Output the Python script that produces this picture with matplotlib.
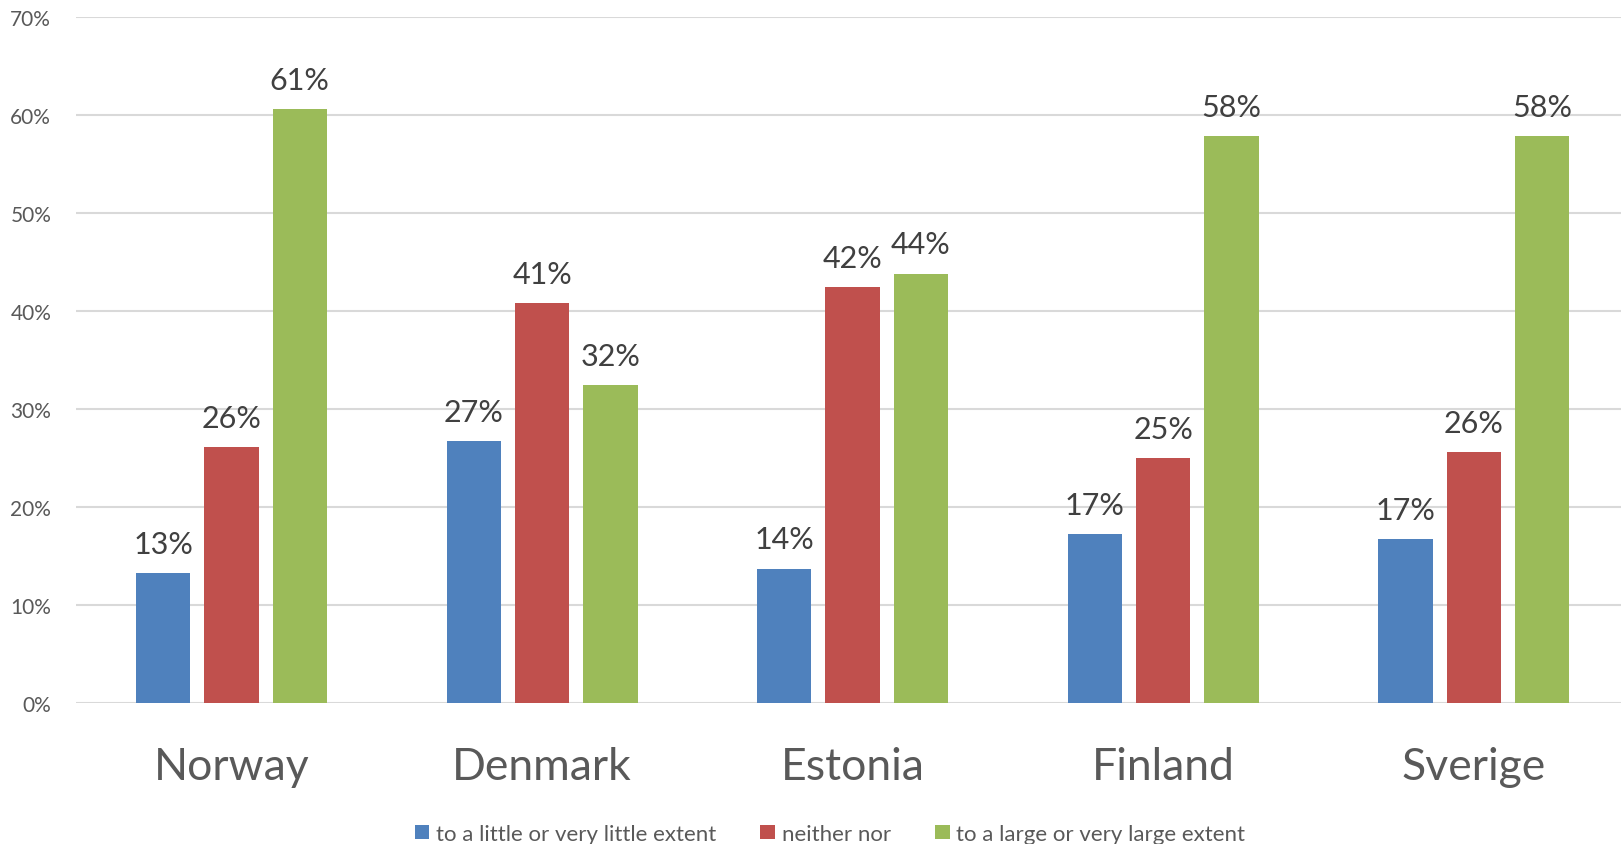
# diagrama de barras agrupadas por país

import matplotlib.pyplot as plt
import numpy as np

paises = ["Norway", "Denmark", "Estonia", "Finland", "Sverige"]
pouco = [13.2, 26.7, 13.7, 17.2, 16.7]
neutro = [26.1, 40.8, 42.4, 25.0, 25.6]
muito = [60.6, 32.4, 43.8, 57.8, 57.8]
series = ["to a little or very little extent", "neither nor", "to a large or very large extent"]
cores = ["#4F81BD", "#C0504D", "#9BBB59"]
yticks = [0, 10, 20, 30, 40, 50, 60, 70]

plt.rcParams['font.family'] = ['Lato', 'DejaVu Sans']

fig = plt.figure(figsize=(16.21, 8.45), dpi=100)
ax = fig.add_axes([0.047, 0.167, 0.958, 0.812])

x = np.arange(len(paises))
largura = 0.175
passo = 0.22

for i, (valores, nome, cor) in enumerate(zip([pouco, neutro, muito], series, cores)):
    pos = x + (i - 1) * passo
    barras = ax.bar(pos, valores, largura, color=cor, label=nome, zorder=3)
    for b, v in zip(barras, valores):
        ax.annotate(f"{round(v):.0f}%", (b.get_x() + b.get_width() / 2, v),
                    xytext=(0, 11), textcoords="offset points",
                    ha="center", va="bottom", fontsize=22, color="#404040")

ax.set_xlim(-0.5, len(paises) - 0.5)
ax.set_ylim(0, 70)
ax.set_yticks(yticks)
ax.set_yticklabels([f"{t}%" for t in yticks], fontsize=15, color="#595959")
ax.set_xticks(x)
ax.set_xticklabels(paises, fontsize=32, color="#595959")
ax.tick_params(axis="x", length=0, pad=31)
ax.tick_params(axis="y", length=0, pad=18)
ax.grid(axis="y", color="#D9D9D9", linewidth=1.5, zorder=0)
for s in ax.spines.values():
    s.set_visible(False)

fig.legend(*ax.get_legend_handles_labels(), loc="center", bbox_to_anchor=(0.512, 0.012),
           ncol=3, frameon=False, fontsize=16, labelcolor="#595959",
           handlelength=0.65, handleheight=0.65, handletextpad=0.3, columnspacing=2.0)

plt.savefig("out.png", dpi=100)
